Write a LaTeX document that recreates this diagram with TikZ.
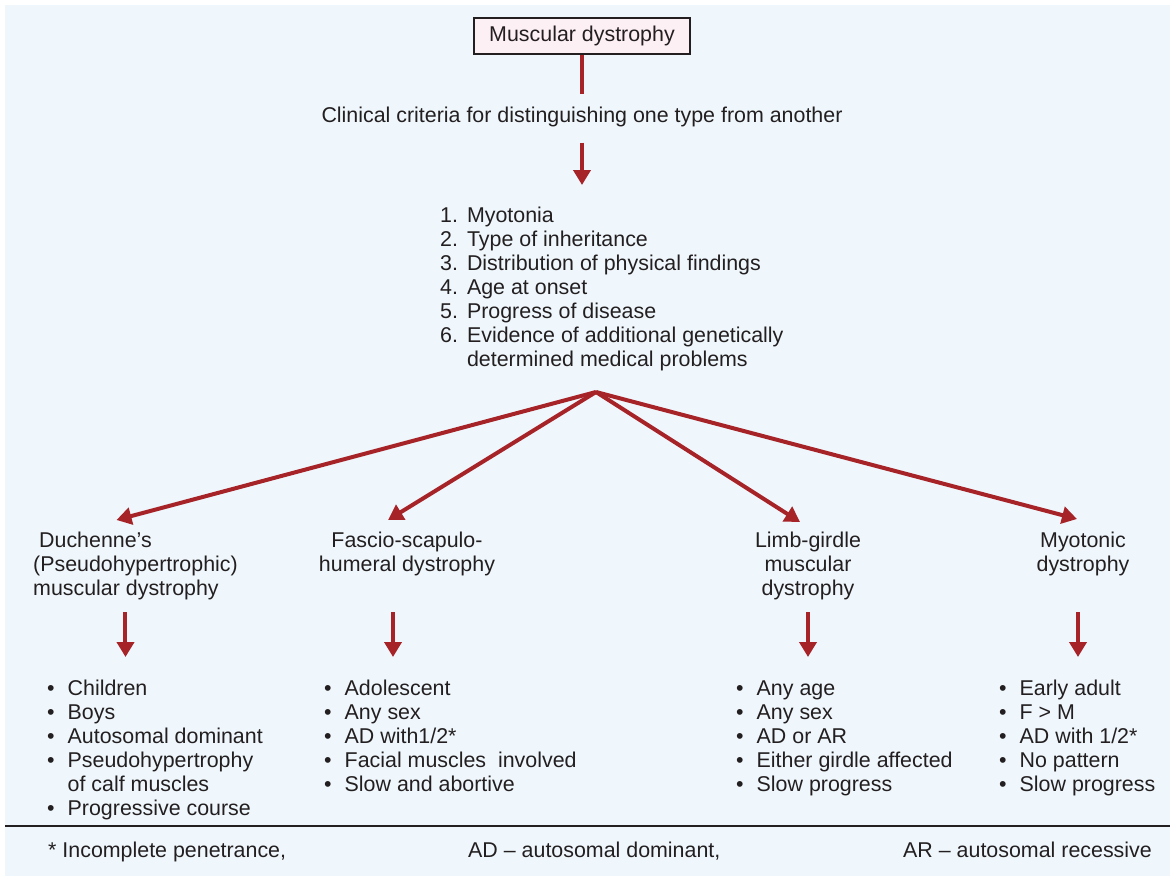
\documentclass[tikz,border=0pt]{standalone}
\usepackage{fontspec}
\setmainfont{Liberation Sans}
\usetikzlibrary{arrows.meta}
\definecolor{bgblue}{RGB}{239,247,252}
\definecolor{arrred}{RGB}{166,35,40}
\definecolor{txt}{RGB}{35,31,32}
\definecolor{boxpink}{RGB}{253,240,244}
\begin{document}
\begin{tikzpicture}[x=1pt,y=-1pt,
  font=\fontsize{21.4}{24}\selectfont,
  every node/.style={text=txt, inner sep=0pt},
  arr/.style={draw=arrred, line width=4pt, -{Triangle[width=17pt,length=15pt]}},
  link/.style={draw=arrred, line width=4pt},
  lst/.style={anchor=base west},
  cat/.style={anchor=base}]
\useasboundingbox (0,0) rectangle (1170,878);
\fill[bgblue] (5,5) rectangle (1170,876);

\node[draw=txt, line width=2pt, fill=boxpink, minimum width=216pt, minimum height=36pt] (md) at (582,36) {Muscular dystrophy};
\node[cat] (crit) at (582,122) {Clinical criteria for distinguishing one type from another};
\node[lst] (crlist) at (440,222) {\begin{tabular}[t]{@{}l@{\hspace{9pt}}l@{}}
1. & Myotonia\\
2. & Type of inheritance\\
3. & Distribution of physical findings\\
4. & Age at onset\\
5. & Progress of disease\\
6. & Evidence of additional genetically\\
   & determined medical problems
\end{tabular}};
\coordinate (apex) at (596,392);

\draw[link] (md.south) -- ([yshift=12pt]crit.north);
\draw[arr] ([yshift=-16pt]crit.south) -- ([yshift=20pt]crlist.north -| crit.south);

% categories
\node[lst] (duch) at (33,547) {\begin{tabular}[t]{@{}l@{}}\hspace{6pt}Duchenne’s\\(Pseudohypertrophic)\\muscular dystrophy\end{tabular}};
\node[cat] (fsh) at (407,547) {\begin{tabular}[t]{@{}c@{}}Fascio-scapulo-\\humeral dystrophy\end{tabular}};
\node[cat] (lg) at (808,547) {\begin{tabular}[t]{@{}c@{}}Limb-girdle\\muscular\\dystrophy\end{tabular}};
\node[cat] (myo) at (1083,547) {\begin{tabular}[t]{@{}c@{}}Myotonic\\dystrophy\end{tabular}};

\draw[arr] (apex) -- ([xshift=-19pt,yshift=10pt]duch.north);
\draw[arr] (apex) -- ([xshift=-19pt,yshift=10pt]fsh.north);
\draw[arr] (apex) -- ([xshift=-8pt,yshift=8pt]lg.north);
\draw[arr] (apex) -- ([xshift=-6pt,yshift=11pt]myo.north);

% lists
\node[lst] (dlist) at (47,695) {\begin{tabular}[t]{@{}l@{\hspace{13pt}}l@{}}
• & Children\\
• & Boys\\
• & Autosomal dominant\\
• & Pseudohypertrophy\\
  & of calf muscles\\
• & Progressive course
\end{tabular}};
\node[lst] (flist) at (324,695) {\begin{tabular}[t]{@{}l@{\hspace{13pt}}l@{}}
• & Adolescent\\
• & Any sex\\
• & AD with1/2*\\
• & Facial muscles\ \ involved\\
• & Slow and abortive
\end{tabular}};
\node[lst] (llist) at (736,695) {\begin{tabular}[t]{@{}l@{\hspace{13pt}}l@{}}
• & Any age\\
• & Any sex\\
• & AD or AR\\
• & Either girdle affected\\
• & Slow progress
\end{tabular}};
\node[lst] (mlist) at (999,695) {\begin{tabular}[t]{@{}l@{\hspace{13pt}}l@{}}
• & Early adult\\
• & F > M\\
• & AD with 1/2*\\
• & No pattern\\
• & Slow progress
\end{tabular}};

\coordinate (ds) at ([xshift=-10pt,yshift=-10pt]duch.south);
\coordinate (fs) at ([xshift=-14pt,yshift=-34pt]fsh.south);
\coordinate (ls) at ([yshift=-10pt]lg.south);
\coordinate (ms) at ([xshift=-5pt,yshift=-34pt]myo.south);
\coordinate (de) at ([yshift=21pt]dlist.north);
\coordinate (fe) at ([yshift=21pt]flist.north);
\coordinate (le) at ([yshift=21pt]llist.north);
\coordinate (me) at ([yshift=21pt]mlist.north);
\draw[arr] (ds) -- (ds |- de);
\draw[arr] (fs) -- (fs |- fe);
\draw[arr] (ls) -- (ls |- le);
\draw[arr] (ms) -- (ms |- me);

% footer
\coordinate (fl) at (5,826);
\coordinate (fr) at (1170,826);
\draw[txt, line width=2.5pt] (fl) -- (fr);
\node[lst] (n1) at (48,857) {* Incomplete penetrance,};
\node[lst] (n2) at (468,857) {AD – autosomal dominant,};
\node[lst] (n3) at (903,857) {AR – autosomal recessive};
\end{tikzpicture}
\end{document}
